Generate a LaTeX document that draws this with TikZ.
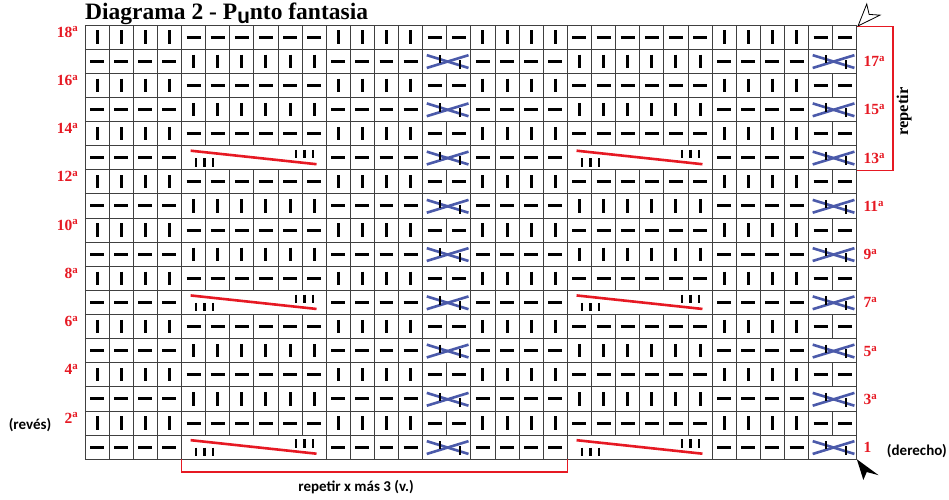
\documentclass[tikz,border=0pt]{standalone}
\usepackage{fontspec}
\setmainfont{Liberation Serif}
\newfontfamily\calibri{Carlito}
\definecolor{chartred}{RGB}{230,25,35}
\definecolor{crossblue}{RGB}{75,90,170}
\begin{document}
\begin{tikzpicture}[x=24.116pt,y=-24.12pt]
	\useasboundingbox(-3.524,-1.037)rectangle(35.821,19.652);
	\tikzset{
		cellline/.style={draw=black!75,line width=.9pt},
		knit/.style={draw=black,line width=3pt},
		twist/.style={draw=black,line width=2.4pt},
		cross/.style={draw=crossblue,line width=2.6pt},
		cable/.style={draw=chartred,line width=2.6pt},
		bracket/.style={draw=chartred,line width=1.5pt},
		rowno/.style={text=chartred,inner sep=0pt,font=\rmfamily\fontsize{15.5}{15.5}\selectfont\bfseries},
		note/.style={inner sep=0pt,font=\calibri\fontsize{15}{15}\selectfont\bfseries}
	}
	% grid
	\foreach \t in {0,...,18}\draw[cellline](0,\t)--(32,\t);
	\foreach \x in {0,1,2,3,4,10,11,12,13,14,16,17,18,19,20,26,27,28,29,30,32}\draw[cellline](\x,0)--(\x,18);
	\foreach \x in {5,6,7,8,9,21,22,23,24,25}\foreach \a/\b in {0/5,6/11,12/17}\draw[cellline](\x,\a)--(\x,\b);
	\foreach \x in {15,31}\foreach \t in {0,2,...,16}\draw[cellline](\x,\t)--(\x,\t+1);
	% even rows
	\foreach \t in {0,2,...,16}{
		\foreach \c in {1,2,3,4,11,12,13,14,17,18,19,20,27,28,29,30}\draw[knit](\c-.5,\t+.225)--(\c-.5,\t+.775);
		\foreach \c in {5,6,7,8,9,10,15,16,21,22,23,24,25,26,31,32}\draw[knit](\c-.79,\t+.5)--(\c-.21,\t+.5);
	}
	% odd rows
	\foreach \t in {1,3,...,17}{
		\foreach \c in {1,2,3,4,11,12,13,14,17,18,19,20,27,28,29,30}\draw[knit](\c-.79,\t+.5)--(\c-.21,\t+.5);
		\foreach \a in {14,30}{
			\draw[cross](\a+.17,\t+.25)--(\a+1.9,\t+.78);
			\draw[cross](\a+.17,\t+.78)--(\a+1.9,\t+.25);
			\draw[twist](\a+.72,\t+.25)--(\a+.72,\t+.59);
			\draw[twist](\a+1.55,\t+.45)--(\a+1.55,\t+.82);
		}
	}
	\foreach \t in {1,3,7,9,13,15}\foreach \c in {5,6,7,8,9,10,21,22,23,24,25,26}\draw[knit](\c-.5,\t+.225)--(\c-.5,\t+.775);
	\foreach \t in {5,11,17}\foreach \a in {4,20}{
		\draw[cable](\a+.38,\t+.21)--(\a+5.6,\t+.77);
		\foreach \d in {.6,.95,1.3}\draw[twist](\a+\d,\t+.52)--(\a+\d,\t+.87);
		\foreach \d in {4.75,5.1,5.45}\draw[twist](\a+\d,\t+.18)--(\a+\d,\t+.52);
	}
	% row numbers
	\foreach \n in {2,4,...,18}\node[rowno,anchor=base east](l\n)at(-.27,18.5-\n){\n\textsuperscript{a}};
	\foreach \n in {3,5,...,17}\node[rowno,anchor=base west](r\n)at(32.27,18.73-\n){\n\textsuperscript{a}};
	\node[rowno,anchor=base west](r1)at(32.27,17.73){1};
	% texts
	\node[anchor=base west,inner sep=0pt,font=\rmfamily\fontsize{23.5}{24}\selectfont\bfseries](title)at(0,-.21)
		{Diagrama 2 - P\raisebox{-.17em}{\calibri\bfseries u}nto fantasia};
	\node[note,anchor=base](reves)at(-2.28,16.75){(revés)};
	\node[note,anchor=base](derecho)at(34.49,17.83){(derecho)};
	\node[note,anchor=base](times)at(11.24,19.32){repetir x más 3 (v.)};
	\node[rotate=90,inner sep=0pt,font=\rmfamily\fontsize{16.5}{16.5}\selectfont\bfseries](repeat)at(33.96,3.59){repetir};
	% brackets
	\draw[bracket](32,.06)--(33.49,.06)--(33.49,6.04)--(32,6.04);
	\draw[bracket](4,18)--(4,18.52)--(20,18.52)--(20,18);
	% arrows
	\filldraw[fill=white,draw=black,line width=.8pt](32.05,.04)--(32.41,-.87)--(32.51,-.44)--(32.96,-.41)--cycle;
	\fill[black](32,18)--(32.27,18.86)--(32.41,18.53)--(32.9,18.66)--cycle;
\end{tikzpicture}
\end{document}
